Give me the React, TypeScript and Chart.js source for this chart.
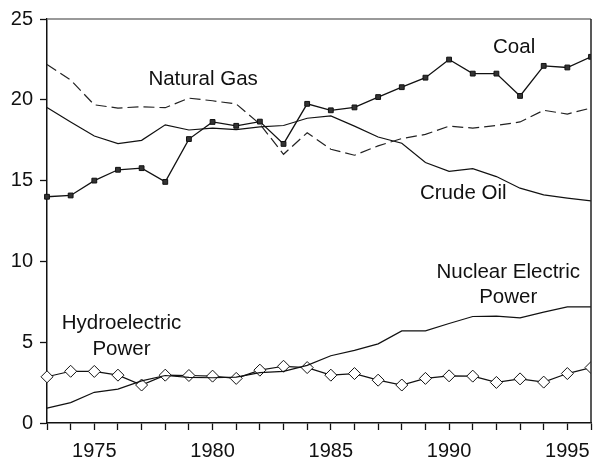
import React, { useEffect, useRef } from 'react';
import { Chart, registerables } from 'chart.js';

Chart.register(...registerables);

const years = [1973, 1974, 1975, 1976, 1977, 1978, 1979, 1980, 1981, 1982, 1983, 1984, 1985, 1986, 1987, 1988, 1989, 1990, 1991, 1992, 1993, 1994, 1995, 1996];
const coal = [14.0, 14.08, 15.0, 15.67, 15.77, 14.92, 17.57, 18.63, 18.39, 18.65, 17.27, 19.75, 19.35, 19.53, 20.17, 20.78, 21.37, 22.49, 21.62, 21.62, 20.24, 22.1, 22.0, 22.66];
const naturalGas = [22.19, 21.22, 19.69, 19.49, 19.57, 19.51, 20.1, 19.94, 19.74, 18.5, 16.63, 17.96, 16.94, 16.57, 17.15, 17.6, 17.86, 18.37, 18.25, 18.41, 18.63, 19.35, 19.12, 19.49];
const crudeOil = [19.53, 18.63, 17.76, 17.29, 17.49, 18.45, 18.13, 18.25, 18.16, 18.33, 18.41, 18.86, 19.0, 18.37, 17.7, 17.31, 16.12, 15.57, 15.74, 15.25, 14.53, 14.12, 13.92, 13.75];
const nuclear = [0.92, 1.26, 1.9, 2.1, 2.61, 2.94, 2.82, 2.8, 2.84, 3.12, 3.2, 3.57, 4.16, 4.49, 4.9, 5.7, 5.7, 6.16, 6.59, 6.61, 6.51, 6.86, 7.18, 7.18];
const hydro = [2.86, 3.2, 3.19, 2.96, 2.35, 2.96, 2.94, 2.9, 2.76, 3.27, 3.51, 3.43, 2.96, 3.06, 2.65, 2.35, 2.76, 2.92, 2.9, 2.51, 2.73, 2.53, 3.06, 3.43];

const xTickLabels = [1975, 1980, 1985, 1990, 1995];
const yTickValues = [0, 5, 10, 15, 20, 25];

const seriesLabels = [
  { lines: ['Coal'], x: 1992.75, y: 22.9 },
  { lines: ['Natural Gas'], x: 1979.6, y: 20.9 },
  { lines: ['Crude Oil'], x: 1990.6, y: 13.85 },
  { lines: ['Nuclear Electric', 'Power'], x: 1992.5, y: 9.0 },
  { lines: ['Hydroelectric', 'Power'], x: 1976.15, y: 5.79 },
];

const FONT = '"Liberation Sans", Arial, sans-serif';

const toPoints = (vals: number[]) => years.map((yr, i) => ({ x: yr, y: vals[i] }));

const framePlugin = {
  id: 'frameAndLabels',
  afterDraw(chart: any) {
    const { ctx, chartArea, scales } = chart;
    ctx.save();
    ctx.lineWidth = 1.5;
    ctx.strokeStyle = '#777';
    ctx.beginPath();
    ctx.moveTo(chartArea.left, chartArea.top);
    ctx.lineTo(chartArea.right, chartArea.top);
    ctx.stroke();
    ctx.strokeStyle = '#222';
    ctx.beginPath();
    ctx.moveTo(chartArea.right, chartArea.top);
    ctx.lineTo(chartArea.right, chartArea.bottom);
    ctx.stroke();

    ctx.fillStyle = '#111';
    ctx.font = `20.5px ${FONT}`;
    ctx.textAlign = 'center';
    ctx.textBaseline = 'alphabetic';
    for (const lab of seriesLabels) {
      const px = scales.x.getPixelForValue(lab.x);
      const py = scales.y.getPixelForValue(lab.y);
      lab.lines.forEach((t, i) => ctx.fillText(t, px, py + i * 25.5));
    }
    ctx.restore();
  },
};

export default function App() {
  const ref = useRef<HTMLCanvasElement>(null);

  useEffect(() => {
    if (!ref.current) return;
    const clip = { left: 10, top: 10, right: 0, bottom: 10 } as any;
    const chart = new Chart(ref.current, {
      type: 'line',
      data: {
        datasets: [
          {
            label: 'Coal',
            data: toPoints(coal),
            borderColor: '#111',
            borderWidth: 1.3,
            pointStyle: 'rect',
            pointRadius: 3.4,
            pointBackgroundColor: '#333',
            pointBorderColor: '#111',
            pointBorderWidth: 1,
            tension: 0,
            clip,
          },
          {
            label: 'Natural Gas',
            data: toPoints(naturalGas),
            borderColor: '#222',
            borderWidth: 1.2,
            borderDash: [11, 5],
            pointRadius: 0,
            tension: 0,
            clip,
          },
          {
            label: 'Crude Oil',
            data: toPoints(crudeOil),
            borderColor: '#111',
            borderWidth: 1.2,
            pointRadius: 0,
            tension: 0,
            clip,
          },
          {
            label: 'Nuclear Electric Power',
            data: toPoints(nuclear),
            borderColor: '#111',
            borderWidth: 1.2,
            pointRadius: 0,
            tension: 0,
            clip,
          },
          {
            label: 'Hydroelectric Power',
            data: toPoints(hydro),
            borderColor: '#111',
            borderWidth: 1.2,
            pointStyle: 'rectRot',
            pointRadius: 6,
            pointBackgroundColor: '#fff',
            pointBorderColor: '#111',
            pointBorderWidth: 1,
            tension: 0,
            clip,
          },
        ],
      },
      options: {
        animation: false,
        responsive: false,
        layout: { padding: { top: 15, right: 1, left: 0, bottom: 0 } },
        plugins: {
          legend: { display: false },
          tooltip: { enabled: false },
        },
        scales: {
          x: {
            type: 'linear',
            min: years[0],
            max: years[years.length - 1],
            afterFit: (s: any) => { s.height = 38; },
            afterBuildTicks: (s: any) => { s.ticks = years.map((v) => ({ value: v })); },
            ticks: {
              autoSkip: false,
              maxRotation: 0,
              padding: 9,
              color: '#111',
              font: { family: FONT, size: 20 },
              callback: (v: any) => (xTickLabels.includes(Number(v)) ? String(v) : ''),
            },
            grid: { drawOnChartArea: false, drawTicks: true, tickLength: 7, tickColor: '#111', tickWidth: 1.3 },
            border: { display: true, color: '#111', width: 1.5 },
          },
          y: {
            type: 'linear',
            min: 0,
            max: 25,
            afterFit: (s: any) => { s.width = 47; },
            afterBuildTicks: (s: any) => { s.ticks = yTickValues.map((v) => ({ value: v })); },
            ticks: {
              padding: 7,
              color: '#111',
              font: { family: FONT, size: 20 },
            },
            grid: { drawOnChartArea: false, drawTicks: true, tickLength: 7, tickColor: '#111', tickWidth: 1.3 },
            border: { display: true, color: '#111', width: 1.5 },
          },
        },
      },
      plugins: [framePlugin],
    });
    return () => chart.destroy();
  }, []);

  return (
    <div style={{ position: 'absolute', left: 0, top: 0, width: 600, height: 461, background: '#fff' }}>
      <canvas ref={ref} width={600} height={461} style={{ display: 'block' }} />
    </div>
  );
}
